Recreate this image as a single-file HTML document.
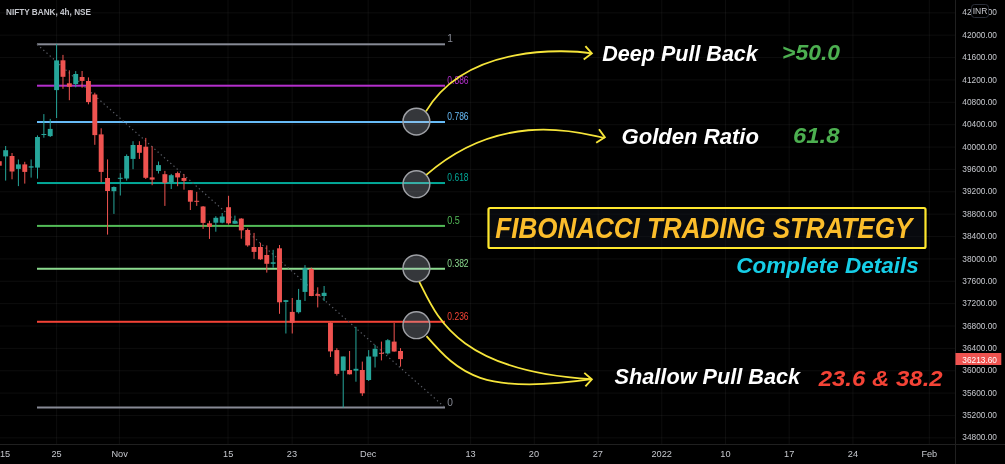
<!DOCTYPE html><html><head><meta charset="utf-8"><style>html,body{margin:0;padding:0;background:#000;width:1005px;height:464px;overflow:hidden}svg{display:block;will-change:transform}</style></head><body>
<svg width="1005" height="464" viewBox="0 0 1005 464">
<rect width="1005" height="464" fill="#000"/>
<g stroke="rgba(255,255,255,0.052)" stroke-width="1"><line x1="0" y1="437.86" x2="955" y2="437.86"/><line x1="0" y1="415.49" x2="955" y2="415.49"/><line x1="0" y1="393.12" x2="955" y2="393.12"/><line x1="0" y1="370.75" x2="955" y2="370.75"/><line x1="0" y1="348.38" x2="955" y2="348.38"/><line x1="0" y1="326.01" x2="955" y2="326.01"/><line x1="0" y1="303.64" x2="955" y2="303.64"/><line x1="0" y1="281.27" x2="955" y2="281.27"/><line x1="0" y1="258.90" x2="955" y2="258.90"/><line x1="0" y1="236.53" x2="955" y2="236.53"/><line x1="0" y1="214.16" x2="955" y2="214.16"/><line x1="0" y1="191.79" x2="955" y2="191.79"/><line x1="0" y1="169.42" x2="955" y2="169.42"/><line x1="0" y1="147.05" x2="955" y2="147.05"/><line x1="0" y1="124.68" x2="955" y2="124.68"/><line x1="0" y1="102.31" x2="955" y2="102.31"/><line x1="0" y1="79.94" x2="955" y2="79.94"/><line x1="0" y1="57.57" x2="955" y2="57.57"/><line x1="0" y1="35.20" x2="955" y2="35.20"/><line x1="0" y1="12.83" x2="955" y2="12.83"/><line x1="56.60" y1="0" x2="56.60" y2="444"/><line x1="119.40" y1="0" x2="119.40" y2="444"/><line x1="228.00" y1="0" x2="228.00" y2="444"/><line x1="292.20" y1="0" x2="292.20" y2="444"/><line x1="368.20" y1="0" x2="368.20" y2="444"/><line x1="470.60" y1="0" x2="470.60" y2="444"/><line x1="534.30" y1="0" x2="534.30" y2="444"/><line x1="598.10" y1="0" x2="598.10" y2="444"/><line x1="661.80" y1="0" x2="661.80" y2="444"/><line x1="725.50" y1="0" x2="725.50" y2="444"/><line x1="789.20" y1="0" x2="789.20" y2="444"/><line x1="852.90" y1="0" x2="852.90" y2="444"/><line x1="929.30" y1="0" x2="929.30" y2="444"/></g>
<line x1="955.5" y1="0" x2="955.5" y2="464" stroke="#202020" stroke-width="1"/>
<line x1="0" y1="444.5" x2="1005" y2="444.5" stroke="#202020" stroke-width="1"/>
<rect x="37" y="43.30" width="408" height="2" fill="#878a95"/>
<rect x="37" y="84.70" width="408" height="2" fill="#b42fcc"/>
<rect x="37" y="121.02" width="408" height="2" fill="#68bdf9"/>
<rect x="37" y="182.04" width="408" height="2" fill="#03a898"/>
<rect x="37" y="224.90" width="408" height="2" fill="#53bb57"/>
<rect x="37" y="267.76" width="408" height="2" fill="#8bd98e"/>
<rect x="37" y="320.78" width="408" height="2" fill="#f44336"/>
<rect x="37" y="406.50" width="408" height="2" fill="#878a95"/>
<line x1="37" y1="44.3" x2="445" y2="407.5" stroke="#5a5d66" stroke-width="1.2" stroke-dasharray="1.3 2.95"/>
<g><rect x="-1.22" y="158.50" width="1" height="9.50" fill="#ef5350"/><rect x="-3.17" y="161.20" width="4.90" height="4.50" fill="#ef5350"/><rect x="5.15" y="146.00" width="1" height="34.60" fill="#26a69a"/><rect x="3.20" y="150.20" width="4.90" height="6.20" fill="#26a69a"/><rect x="11.52" y="153.00" width="1" height="26.30" fill="#ef5350"/><rect x="9.57" y="156.00" width="4.90" height="15.50" fill="#ef5350"/><rect x="17.89" y="159.50" width="1" height="26.60" fill="#26a69a"/><rect x="15.94" y="164.40" width="4.90" height="4.50" fill="#26a69a"/><rect x="24.26" y="161.80" width="1" height="21.80" fill="#ef5350"/><rect x="22.31" y="164.40" width="4.90" height="7.50" fill="#ef5350"/><rect x="30.62" y="159.50" width="1" height="18.10" fill="#26a69a"/><rect x="28.67" y="166.30" width="4.90" height="1.30" fill="#26a69a"/><rect x="36.99" y="135.40" width="1" height="43.20" fill="#26a69a"/><rect x="35.04" y="137.00" width="4.90" height="30.60" fill="#26a69a"/><rect x="43.36" y="114.10" width="1" height="23.60" fill="#26a69a"/><rect x="41.41" y="134.00" width="4.90" height="1.00" fill="#26a69a"/><rect x="49.73" y="118.90" width="1" height="18.10" fill="#26a69a"/><rect x="47.78" y="128.90" width="4.90" height="7.20" fill="#26a69a"/><rect x="56.10" y="44.10" width="1" height="73.90" fill="#26a69a"/><rect x="54.15" y="60.40" width="4.90" height="29.70" fill="#26a69a"/><rect x="62.47" y="54.90" width="1" height="33.90" fill="#ef5350"/><rect x="60.52" y="60.30" width="4.90" height="16.50" fill="#ef5350"/><rect x="68.84" y="70.30" width="1" height="29.90" fill="#ef5350"/><rect x="66.89" y="83.30" width="4.90" height="3.40" fill="#ef5350"/><rect x="75.21" y="71.10" width="1" height="16.20" fill="#26a69a"/><rect x="73.26" y="74.00" width="4.90" height="10.00" fill="#26a69a"/><rect x="81.58" y="71.00" width="1" height="16.70" fill="#ef5350"/><rect x="79.63" y="77.00" width="4.90" height="3.90" fill="#ef5350"/><rect x="87.94" y="77.40" width="1" height="26.90" fill="#ef5350"/><rect x="85.99" y="81.00" width="4.90" height="21.10" fill="#ef5350"/><rect x="94.31" y="92.70" width="1" height="52.10" fill="#ef5350"/><rect x="92.36" y="94.50" width="4.90" height="40.60" fill="#ef5350"/><rect x="100.68" y="128.30" width="1" height="54.00" fill="#ef5350"/><rect x="98.73" y="134.40" width="4.90" height="37.50" fill="#ef5350"/><rect x="107.05" y="159.40" width="1" height="75.20" fill="#ef5350"/><rect x="105.10" y="178.00" width="4.90" height="13.00" fill="#ef5350"/><rect x="113.42" y="186.40" width="1" height="27.50" fill="#26a69a"/><rect x="111.47" y="187.00" width="4.90" height="4.20" fill="#26a69a"/><rect x="119.79" y="173.20" width="1" height="22.30" fill="#26a69a"/><rect x="117.84" y="177.80" width="4.90" height="1.00" fill="#26a69a"/><rect x="126.16" y="154.40" width="1" height="26.20" fill="#26a69a"/><rect x="124.21" y="156.00" width="4.90" height="22.50" fill="#26a69a"/><rect x="132.53" y="141.20" width="1" height="28.00" fill="#26a69a"/><rect x="130.58" y="145.00" width="4.90" height="13.90" fill="#26a69a"/><rect x="138.90" y="141.20" width="1" height="17.70" fill="#ef5350"/><rect x="136.95" y="145.00" width="4.90" height="7.80" fill="#ef5350"/><rect x="145.27" y="137.90" width="1" height="41.10" fill="#ef5350"/><rect x="143.32" y="146.70" width="4.90" height="31.10" fill="#ef5350"/><rect x="151.63" y="146.30" width="1" height="38.90" fill="#ef5350"/><rect x="149.69" y="177.40" width="4.90" height="2.20" fill="#ef5350"/><rect x="158.00" y="161.50" width="1" height="12.00" fill="#26a69a"/><rect x="156.05" y="165.10" width="4.90" height="5.80" fill="#26a69a"/><rect x="164.37" y="170.90" width="1" height="35.00" fill="#ef5350"/><rect x="162.42" y="174.20" width="4.90" height="8.60" fill="#ef5350"/><rect x="170.74" y="173.90" width="1" height="15.10" fill="#26a69a"/><rect x="168.79" y="175.20" width="4.90" height="7.40" fill="#26a69a"/><rect x="177.11" y="171.60" width="1" height="14.60" fill="#ef5350"/><rect x="175.16" y="173.10" width="4.90" height="4.30" fill="#ef5350"/><rect x="183.48" y="174.20" width="1" height="15.50" fill="#ef5350"/><rect x="181.53" y="178.00" width="4.90" height="2.90" fill="#ef5350"/><rect x="189.85" y="190.20" width="1" height="19.80" fill="#ef5350"/><rect x="187.90" y="190.20" width="4.90" height="11.50" fill="#ef5350"/><rect x="196.22" y="191.90" width="1" height="14.00" fill="#ef5350"/><rect x="194.27" y="200.80" width="4.90" height="1.00" fill="#ef5350"/><rect x="202.59" y="206.00" width="1" height="22.90" fill="#ef5350"/><rect x="200.64" y="206.50" width="4.90" height="16.40" fill="#ef5350"/><rect x="208.96" y="220.80" width="1" height="18.10" fill="#ef5350"/><rect x="207.01" y="223.30" width="4.90" height="3.50" fill="#ef5350"/><rect x="215.32" y="216.20" width="1" height="15.50" fill="#26a69a"/><rect x="213.38" y="217.80" width="4.90" height="4.90" fill="#26a69a"/><rect x="221.69" y="213.00" width="1" height="10.30" fill="#26a69a"/><rect x="219.74" y="216.50" width="4.90" height="6.20" fill="#26a69a"/><rect x="228.06" y="195.80" width="1" height="28.80" fill="#ef5350"/><rect x="226.11" y="207.20" width="4.90" height="16.10" fill="#ef5350"/><rect x="234.43" y="215.60" width="1" height="8.30" fill="#26a69a"/><rect x="232.48" y="220.80" width="4.90" height="2.90" fill="#26a69a"/><rect x="240.80" y="218.20" width="1" height="20.50" fill="#ef5350"/><rect x="238.85" y="218.60" width="4.90" height="11.80" fill="#ef5350"/><rect x="247.17" y="228.50" width="1" height="18.20" fill="#ef5350"/><rect x="245.22" y="230.00" width="4.90" height="15.40" fill="#ef5350"/><rect x="253.54" y="232.90" width="1" height="26.00" fill="#ef5350"/><rect x="251.59" y="247.00" width="4.90" height="4.90" fill="#ef5350"/><rect x="259.91" y="242.90" width="1" height="17.00" fill="#ef5350"/><rect x="257.96" y="247.00" width="4.90" height="12.30" fill="#ef5350"/><rect x="266.28" y="245.40" width="1" height="27.20" fill="#ef5350"/><rect x="264.33" y="255.00" width="4.90" height="8.80" fill="#ef5350"/><rect x="272.65" y="249.80" width="1" height="17.90" fill="#26a69a"/><rect x="270.70" y="262.30" width="4.90" height="1.50" fill="#26a69a"/><rect x="279.01" y="245.00" width="1" height="68.80" fill="#ef5350"/><rect x="277.06" y="248.30" width="4.90" height="54.00" fill="#ef5350"/><rect x="285.38" y="299.90" width="1" height="33.60" fill="#26a69a"/><rect x="283.43" y="300.20" width="4.90" height="1.70" fill="#26a69a"/><rect x="291.75" y="298.00" width="1" height="35.50" fill="#ef5350"/><rect x="289.80" y="311.90" width="4.90" height="10.80" fill="#ef5350"/><rect x="298.12" y="288.90" width="1" height="24.60" fill="#26a69a"/><rect x="296.17" y="299.90" width="4.90" height="12.30" fill="#26a69a"/><rect x="304.49" y="265.10" width="1" height="35.90" fill="#26a69a"/><rect x="302.54" y="268.20" width="4.90" height="23.70" fill="#26a69a"/><rect x="310.86" y="267.60" width="1" height="28.60" fill="#ef5350"/><rect x="308.91" y="268.90" width="4.90" height="27.10" fill="#ef5350"/><rect x="317.23" y="287.30" width="1" height="20.10" fill="#ef5350"/><rect x="315.28" y="294.10" width="4.90" height="1.70" fill="#ef5350"/><rect x="323.60" y="286.00" width="1" height="15.00" fill="#26a69a"/><rect x="321.65" y="292.80" width="4.90" height="3.20" fill="#26a69a"/><rect x="329.97" y="322.30" width="1" height="34.70" fill="#ef5350"/><rect x="328.02" y="322.70" width="4.90" height="28.70" fill="#ef5350"/><rect x="336.34" y="348.20" width="1" height="27.40" fill="#ef5350"/><rect x="334.39" y="350.10" width="4.90" height="23.80" fill="#ef5350"/><rect x="342.71" y="356.50" width="1" height="51.10" fill="#26a69a"/><rect x="340.76" y="356.50" width="4.90" height="14.20" fill="#26a69a"/><rect x="349.07" y="351.00" width="1" height="23.50" fill="#ef5350"/><rect x="347.12" y="370.00" width="4.90" height="4.30" fill="#ef5350"/><rect x="355.44" y="326.80" width="1" height="54.90" fill="#26a69a"/><rect x="353.49" y="368.80" width="4.90" height="1.90" fill="#26a69a"/><rect x="361.81" y="361.60" width="1" height="34.30" fill="#ef5350"/><rect x="359.86" y="370.00" width="4.90" height="23.30" fill="#ef5350"/><rect x="368.18" y="350.10" width="1" height="30.90" fill="#26a69a"/><rect x="366.23" y="356.50" width="4.90" height="23.50" fill="#26a69a"/><rect x="374.55" y="344.90" width="1" height="22.60" fill="#26a69a"/><rect x="372.60" y="348.80" width="4.90" height="7.80" fill="#26a69a"/><rect x="380.92" y="341.60" width="1" height="18.80" fill="#ef5350"/><rect x="378.97" y="352.80" width="4.90" height="1.00" fill="#ef5350"/><rect x="387.29" y="339.10" width="1" height="15.40" fill="#26a69a"/><rect x="385.34" y="340.20" width="4.90" height="13.20" fill="#26a69a"/><rect x="393.66" y="323.00" width="1" height="28.70" fill="#ef5350"/><rect x="391.71" y="341.60" width="4.90" height="9.90" fill="#ef5350"/><rect x="400.03" y="348.10" width="1" height="18.50" fill="#ef5350"/><rect x="398.08" y="351.00" width="4.90" height="8.10" fill="#ef5350"/></g>
<text x="447.3" y="42.30" font-family="Liberation Sans" font-size="10.2" fill="#878a95">1</text>
<text x="447.3" y="83.70" font-family="Liberation Sans" font-size="10.2" fill="#b42fcc" textLength="21.3" lengthAdjust="spacingAndGlyphs">0.886</text>
<text x="447.3" y="120.02" font-family="Liberation Sans" font-size="10.2" fill="#68bdf9" textLength="21.3" lengthAdjust="spacingAndGlyphs">0.786</text>
<text x="447.3" y="181.04" font-family="Liberation Sans" font-size="10.2" fill="#03a898" textLength="21.3" lengthAdjust="spacingAndGlyphs">0.618</text>
<text x="447.3" y="223.90" font-family="Liberation Sans" font-size="10.2" fill="#53bb57" textLength="12.6" lengthAdjust="spacingAndGlyphs">0.5</text>
<text x="447.3" y="266.76" font-family="Liberation Sans" font-size="10.2" fill="#8bd98e" textLength="21.3" lengthAdjust="spacingAndGlyphs">0.382</text>
<text x="447.3" y="319.78" font-family="Liberation Sans" font-size="10.2" fill="#f44336" textLength="21.3" lengthAdjust="spacingAndGlyphs">0.236</text>
<text x="447.3" y="405.50" font-family="Liberation Sans" font-size="10.2" fill="#878a95">0</text>
<circle cx="416.4" cy="121.60" r="13.4" fill="rgba(190,196,212,0.28)" stroke="#9fa1a6" stroke-width="1.45"/>
<circle cx="416.4" cy="184.20" r="13.4" fill="rgba(190,196,212,0.28)" stroke="#9fa1a6" stroke-width="1.45"/>
<circle cx="416.4" cy="268.30" r="13.4" fill="rgba(190,196,212,0.28)" stroke="#9fa1a6" stroke-width="1.45"/>
<circle cx="416.4" cy="325.20" r="13.4" fill="rgba(190,196,212,0.28)" stroke="#9fa1a6" stroke-width="1.45"/>
<path d="M426.0,111.4 C466.8,42.8 568.0,49.7 591.6,53.4" fill="none" stroke="#f6e53a" stroke-width="1.8"/>
<path d="M426.3,174.9 C510.8,100.8 601.8,140.6 604.6,137.4" fill="none" stroke="#f6e53a" stroke-width="1.8"/>
<path d="M419.3,281.8 C436.7,316.0 455.8,370.8 591.6,379.2" fill="none" stroke="#f6e53a" stroke-width="1.8"/>
<path d="M426.5,336.1 C459.5,374.0 481.8,395.0 591.6,379.2" fill="none" stroke="#f6e53a" stroke-width="1.8"/>
<path d="M585.4,46.2 L591.8,53.4 L583.7,59.6" fill="none" stroke="#f6e53a" stroke-width="1.9" stroke-linejoin="miter"/>
<path d="M599.0,129.3 L604.8,137.2 L596.2,142.8" fill="none" stroke="#f6e53a" stroke-width="1.9" stroke-linejoin="miter"/>
<path d="M584.3,372.9 L591.8,379.4 L585.4,386.3" fill="none" stroke="#f6e53a" stroke-width="1.9" stroke-linejoin="miter"/>
<text x="602.3" y="61.2" font-family="Liberation Sans" font-weight="bold" font-style="italic" font-size="22.8" fill="#ffffff" textLength="155.5" lengthAdjust="spacingAndGlyphs">Deep Pull Back</text>
<text x="782.0" y="60.2" font-family="Liberation Sans" font-weight="bold" font-style="italic" font-size="22.8" fill="#4caf50" textLength="58.0" lengthAdjust="spacingAndGlyphs">&gt;50.0</text>
<text x="621.5" y="143.6" font-family="Liberation Sans" font-weight="bold" font-style="italic" font-size="22.8" fill="#ffffff" textLength="137.5" lengthAdjust="spacingAndGlyphs">Golden Ratio</text>
<text x="793.0" y="143.0" font-family="Liberation Sans" font-weight="bold" font-style="italic" font-size="22.8" fill="#4caf50" textLength="46.5" lengthAdjust="spacingAndGlyphs">61.8</text>
<rect x="488.5" y="208.0" width="437" height="40" rx="1.5" fill="rgba(19,23,34,0.42)" stroke="#ffe82e" stroke-width="2.2"/>
<text x="495.3" y="237.9" font-family="Liberation Sans" font-weight="bold" font-style="italic" font-size="29.5" fill="#fbbd2b" textLength="417.0" lengthAdjust="spacingAndGlyphs">FIBONACCI TRADING STRATEGY</text>
<text x="736.3" y="273.1" font-family="Liberation Sans" font-weight="bold" font-style="italic" font-size="21.8" fill="#16cde6" textLength="182.5" lengthAdjust="spacingAndGlyphs">Complete Details</text>
<text x="614.6" y="383.8" font-family="Liberation Sans" font-weight="bold" font-style="italic" font-size="22.8" fill="#ffffff" textLength="185.5" lengthAdjust="spacingAndGlyphs">Shallow Pull Back</text>
<text x="818.7" y="385.9" font-family="Liberation Sans" font-weight="bold" font-style="italic" font-size="22.8" fill="#f44336" textLength="124.0" lengthAdjust="spacingAndGlyphs">23.6 &amp; 38.2</text>
<text x="6" y="14.8" font-family="Liberation Sans" font-weight="bold" font-size="9" fill="#c4c6cc" textLength="85" lengthAdjust="spacingAndGlyphs">NIFTY BANK, 4h, NSE</text>
<g font-family="Liberation Sans" font-size="9.6" fill="#c6c8ce"><text x="962.3" y="440.46" textLength="34.7" lengthAdjust="spacingAndGlyphs">34800.00</text><text x="962.3" y="418.09" textLength="34.7" lengthAdjust="spacingAndGlyphs">35200.00</text><text x="962.3" y="395.72" textLength="34.7" lengthAdjust="spacingAndGlyphs">35600.00</text><text x="962.3" y="373.35" textLength="34.7" lengthAdjust="spacingAndGlyphs">36000.00</text><text x="962.3" y="350.98" textLength="34.7" lengthAdjust="spacingAndGlyphs">36400.00</text><text x="962.3" y="328.61" textLength="34.7" lengthAdjust="spacingAndGlyphs">36800.00</text><text x="962.3" y="306.24" textLength="34.7" lengthAdjust="spacingAndGlyphs">37200.00</text><text x="962.3" y="283.87" textLength="34.7" lengthAdjust="spacingAndGlyphs">37600.00</text><text x="962.3" y="261.50" textLength="34.7" lengthAdjust="spacingAndGlyphs">38000.00</text><text x="962.3" y="239.13" textLength="34.7" lengthAdjust="spacingAndGlyphs">38400.00</text><text x="962.3" y="216.76" textLength="34.7" lengthAdjust="spacingAndGlyphs">38800.00</text><text x="962.3" y="194.39" textLength="34.7" lengthAdjust="spacingAndGlyphs">39200.00</text><text x="962.3" y="172.02" textLength="34.7" lengthAdjust="spacingAndGlyphs">39600.00</text><text x="962.3" y="149.65" textLength="34.7" lengthAdjust="spacingAndGlyphs">40000.00</text><text x="962.3" y="127.28" textLength="34.7" lengthAdjust="spacingAndGlyphs">40400.00</text><text x="962.3" y="104.91" textLength="34.7" lengthAdjust="spacingAndGlyphs">40800.00</text><text x="962.3" y="82.54" textLength="34.7" lengthAdjust="spacingAndGlyphs">41200.00</text><text x="962.3" y="60.17" textLength="34.7" lengthAdjust="spacingAndGlyphs">41600.00</text><text x="962.3" y="37.80" textLength="34.7" lengthAdjust="spacingAndGlyphs">42000.00</text><text x="962.3" y="15.43" textLength="34.7" lengthAdjust="spacingAndGlyphs">42400.00</text></g>
<rect x="971.5" y="4.5" width="17" height="13" rx="3" fill="#000" stroke="#2a2e39" stroke-width="1"/>
<text x="980" y="14.3" font-family="Liberation Sans" font-size="8.5" fill="#c8cad0" text-anchor="middle">INR</text>
<rect x="955.5" y="353" width="45.8" height="12" fill="#ef5350"/>
<text x="962.3" y="362.6" font-family="Liberation Sans" font-size="9.6" fill="#fff" textLength="34.7" lengthAdjust="spacingAndGlyphs">36213.60</text>
<g font-family="Liberation Sans" font-size="9.2" fill="#c6c8ce"><text x="5.0" y="456.9" text-anchor="middle">15</text><text x="56.6" y="456.9" text-anchor="middle">25</text><text x="119.6" y="456.9" text-anchor="middle">Nov</text><text x="228.2" y="456.9" text-anchor="middle">15</text><text x="291.9" y="456.9" text-anchor="middle">23</text><text x="368.2" y="456.9" text-anchor="middle">Dec</text><text x="470.5" y="456.9" text-anchor="middle">13</text><text x="533.9" y="456.9" text-anchor="middle">20</text><text x="597.8" y="456.9" text-anchor="middle">27</text><text x="661.7" y="456.9" text-anchor="middle">2022</text><text x="725.4" y="456.9" text-anchor="middle">10</text><text x="789.2" y="456.9" text-anchor="middle">17</text><text x="852.9" y="456.9" text-anchor="middle">24</text><text x="929.3" y="456.9" text-anchor="middle">Feb</text></g>
</svg></body></html>
